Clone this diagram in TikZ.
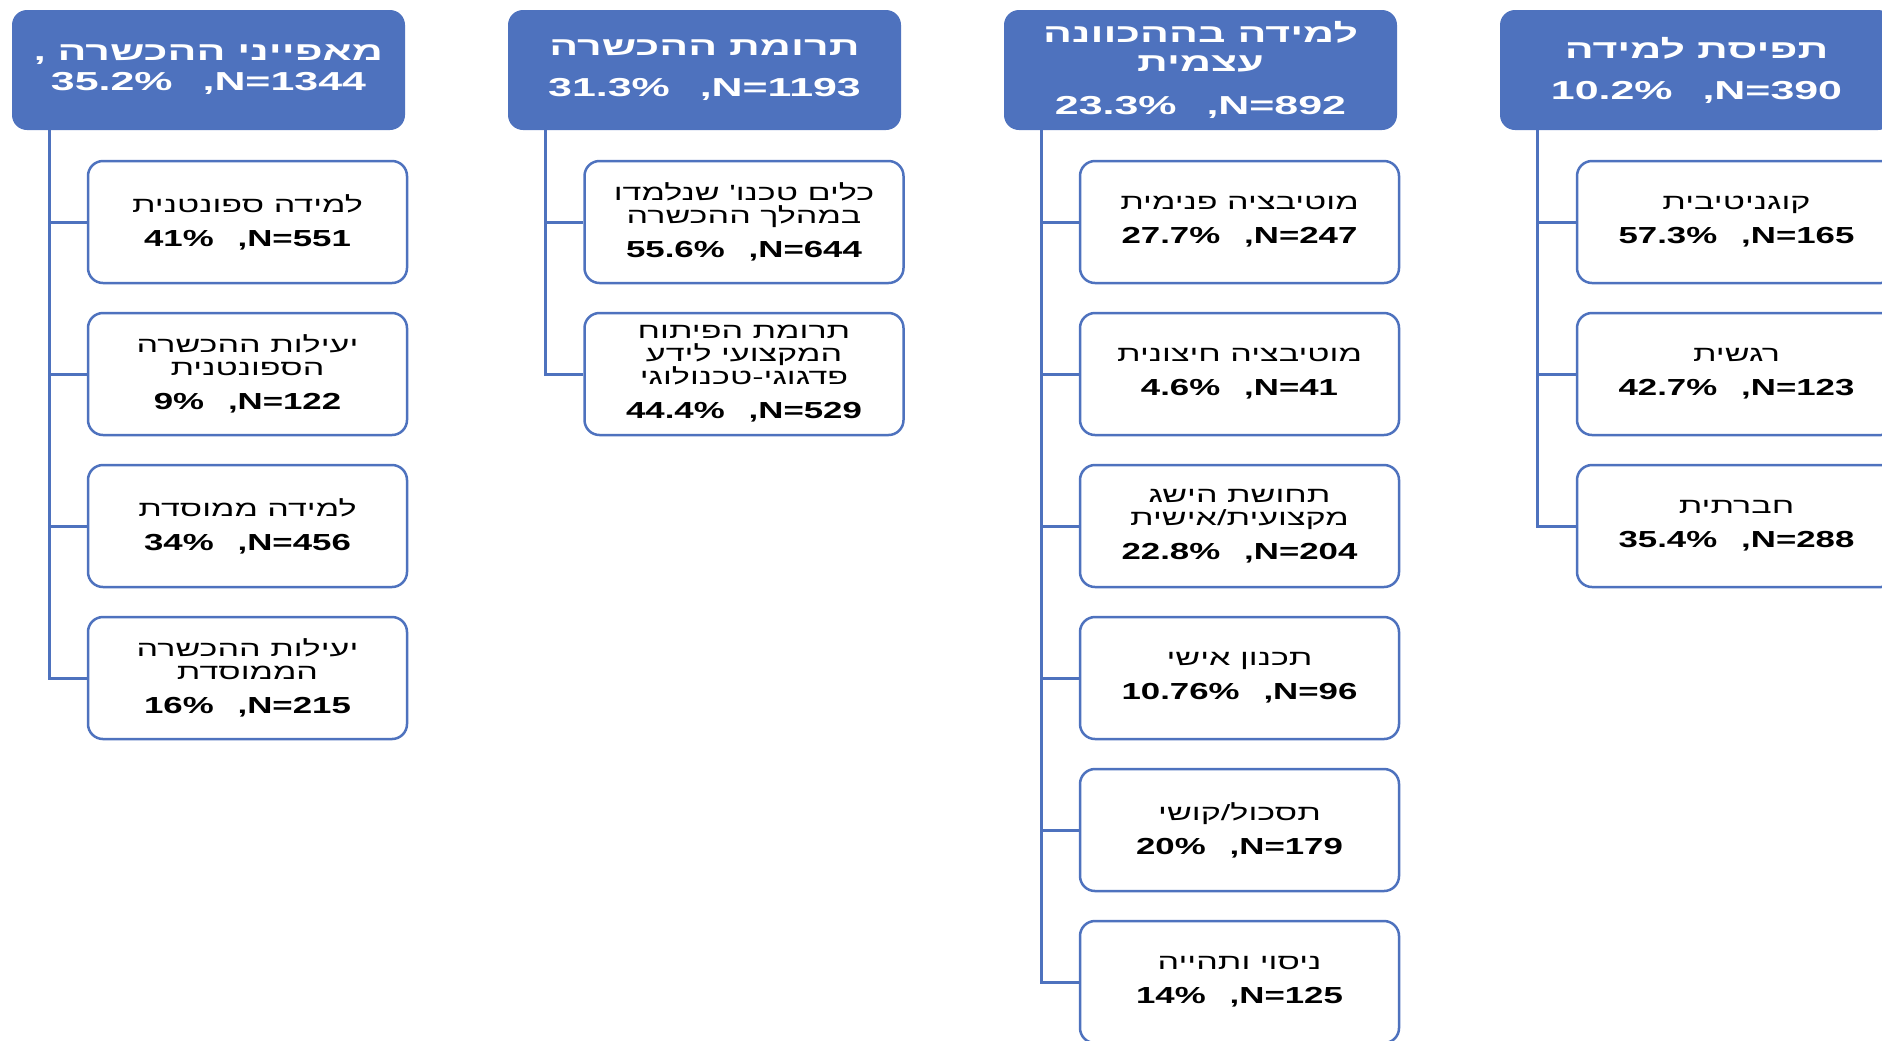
\documentclass[tikz,border=0pt]{standalone}
\usepackage{fontspec}
\setmainfont{Liberation Sans}[FakeStretch=1.5]
\newfontfamily\hebfont{Liberation Sans}[Script=Hebrew,FakeStretch=1.55]
\newfontfamily\hebhead{Liberation Sans}[Script=Hebrew,FakeStretch=1.65]
\newfontfamily\numhead{Liberation Sans}[FakeStretch=1.65]
\TeXXeTstate=1
\definecolor{chartblue}{RGB}{78,114,190}
\newcommand{\hebline}[1]{{\hebfont\beginR #1\endR}}
\newcommand{\hebtop}[1]{{\hebhead\beginR #1\endR}}
\newcommand{\numline}[1]{{\fontsize{11.6}{11.5}\selectfont\bfseries #1}}

\begin{document}
\begin{tikzpicture}[x=0.5pt,y=-0.5pt,
  head/.style={fill=chartblue,rounded corners=7.5pt,minimum width=196.5pt,minimum height=60pt,
    inner sep=0pt,text=white,align=center,font=\fontsize{13}{14.5}\selectfont\bfseries},
  kid/.style={draw=chartblue,line width=1.25pt,rounded corners=7.5pt,fill=white,
    minimum width=159.5pt,minimum height=61pt,inner sep=0pt,align=center,
    font=\fontsize{11}{11.5}\selectfont},
  conn/.style={draw=chartblue,line width=1.5pt}]
\useasboundingbox (0,0) rectangle (1882,1040);
\clip (0,0) rectangle (1882,1040);

% headers
\node[head] (h1) at (208.5,70) {\hebtop{מאפייני ההכשרה ,}\\[0.5pt]{\numhead 35.2\%\hspace{15pt},N=1344}};
\node[head] (h2) at (704.5,70) {\hebtop{תרומת ההכשרה}\\[6pt]{\numhead 31.3\%\hspace{15pt},N=1193}};
\node[head] (h3) at (1200.5,70) {\hebtop{למידה בההכוונה}\\\hebtop{עצמית}\\[7pt]{\numhead 23.3\%\hspace{15pt},N=892}};
\node[head] (h4) at (1696.5,70) {\hebtop{תפיסת למידה}\\[6pt]{\numhead 10.2\%\hspace{15pt},N=390}};

% first column
\node[kid] (c1a) at (247.5,222) {\hebline{למידה ספונטנית}\\[5.5pt]\numline{41\%\hspace{12pt},N=551}};
\node[kid] (c1b) at (247.5,374) {\hebline{יעילות ההכשרה}\\\hebline{הספונטנית}\\[5.5pt]\numline{9\%\hspace{12pt},N=122}};
\node[kid] (c1c) at (247.5,526) {\hebline{למידה ממוסדת}\\[5.5pt]\numline{34\%\hspace{12pt},N=456}};
\node[kid] (c1d) at (247.5,678) {\hebline{יעילות ההכשרה}\\\hebline{הממוסדת}\\[5.5pt]\numline{16\%\hspace{12pt},N=215}};

% second column
\node[kid] (c2a) at (744,222) {\hebline{כלים טכנו' שנלמדו}\\\hebline{במהלך ההכשרה}\\[5.5pt]\numline{55.6\%\hspace{12pt},N=644}};
\node[kid] (c2b) at (744,374) {\hebline{תרומת הפיתוח}\\\hebline{המקצועי לידע}\\\hebline{פדגוגי-טכנולוגי}\\[5.5pt]\numline{44.4\%\hspace{12pt},N=529}};

% third column
\node[kid] (c3a) at (1239.5,222) {\hebline{מוטיבציה פנימית}\\[5.5pt]\numline{27.7\%\hspace{12pt},N=247}};
\node[kid] (c3b) at (1239.5,374) {\hebline{מוטיבציה חיצונית}\\[5.5pt]\numline{4.6\%\hspace{12pt},N=41}};
\node[kid] (c3c) at (1239.5,526) {\hebline{תחושת הישג}\\\hebline{מקצועית/אישית}\\[5.5pt]\numline{22.8\%\hspace{12pt},N=204}};
\node[kid] (c3d) at (1239.5,678) {\hebline{תכנון אישי}\\[5.5pt]\numline{10.76\%\hspace{12pt},N=96}};
\node[kid] (c3e) at (1239.5,830) {\hebline{תסכול/קושי}\\[5.5pt]\numline{20\%\hspace{12pt},N=179}};
\node[kid] (c3f) at (1239.5,982) {\hebline{ניסוי ותהייה}\\[5.5pt]\numline{14\%\hspace{12pt},N=125}};

% fourth column
\node[kid] (c4a) at (1736.5,222) {\hebline{קוגניטיבית}\\[5.5pt]\numline{57.3\%\hspace{12pt},N=165}};
\node[kid] (c4b) at (1736.5,374) {\hebline{רגשית}\\[5.5pt]\numline{42.7\%\hspace{12pt},N=123}};
\node[kid] (c4c) at (1736.5,526) {\hebline{חברתית}\\[5.5pt]\numline{35.4\%\hspace{12pt},N=288}};

% trunks and branches
\coordinate (t1) at ([xshift=19pt]h1.south west);
\coordinate (t2) at ([xshift=19pt]h2.south west);
\coordinate (t3) at ([xshift=19pt]h3.south west);
\coordinate (t4) at ([xshift=19pt]h4.south west);
\draw[conn] (t1) |- (c1d.west);
\draw[conn] (t2) |- (c2b.west);
\draw[conn] (t3) |- (c3f.west);
\draw[conn] (t4) |- (c4c.west);
\foreach \k in {c1a,c1b,c1c}
  \draw[conn] (t1 |- \k.west) -- (\k.west);
\draw[conn] (t2 |- c2a.west) -- (c2a.west);
\foreach \k in {c3a,c3b,c3c,c3d,c3e}
  \draw[conn] (t3 |- \k.west) -- (\k.west);
\foreach \k in {c4a,c4b}
  \draw[conn] (t4 |- \k.west) -- (\k.west);

\end{tikzpicture}
\end{document}
